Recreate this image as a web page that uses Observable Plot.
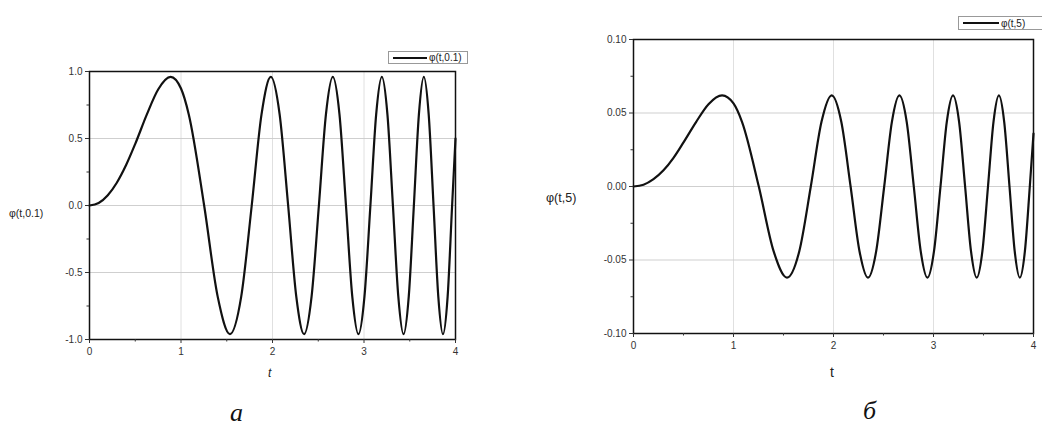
<!DOCTYPE html>
<html>
<head>
<meta charset="utf-8">
<script src="https://cdn.jsdelivr.net/npm/d3@7"></script>
<script src="https://cdn.jsdelivr.net/npm/@observablehq/plot@0.6"></script>
<style>
  html, body { margin: 0; padding: 0; background: #fff; }
  #wrap { position: relative; width: 1042px; height: 432px; overflow: hidden; background: #fff; font-family: "Liberation Sans", Arial, sans-serif; }
  .panel { position: absolute; top: 0; }
  .lbl { position: absolute; color: #222; white-space: nowrap; }
  .legend { position: absolute; border: 1px solid #999; background: #fff; font-size: 10px; color: #222; display: flex; align-items: center; padding: 0 2px 0 4px; box-sizing: border-box; }
  .legend .sw { display: inline-block; height: 0; border-top: 2px solid #111; margin-right: 2px; }
  .cap { position: absolute; font-family: "Liberation Serif", "Times New Roman", serif; font-style: italic; font-size: 26px; color: #111; }
</style>
</head>
<body>
<div id="wrap">
  <div class="panel" id="pa" style="left:0px"></div>
  <div class="panel" id="pb" style="left:520px"></div>

  <div class="lbl" style="left:9px; top:207px; font-size:10.5px;">φ(t,0.1)</div>
  <div class="lbl" style="left:268px; top:366px; font-size:12px; font-style:italic;">t</div>
  <div class="legend" style="left:388px; top:51px; width:80px; height:13px;"><span class="sw" style="width:34px"></span>φ(t,0.1)</div>

  <div class="lbl" style="left:546px; top:191px; font-size:12.5px;">φ(t,5)</div>
  <div class="lbl" style="left:830px; top:364px; font-size:14px;">t</div>
  <div class="legend" style="left:958px; top:16px; width:90px; height:14px;"><span class="sw" style="width:36px"></span>φ(t,5)</div>

  <div class="cap" style="left:230px; top:398px;">а</div>
  <div class="cap" style="left:863px; top:396px;">б</div>
</div>
<script>
// ---- data ----
const t = [0, 0.1, 0.2, 0.3, 0.4, 0.5, 0.627, 0.75, 0.886, 1.0, 1.085, 1.253, 1.401, 1.535, 1.658, 1.773, 1.880, 1.982, 2.078, 2.171, 2.260, 2.345, 2.427, 2.507, 2.584, 2.659, 2.732, 2.803, 2.872, 2.939, 3.005, 3.070, 3.133, 3.195, 3.256, 3.316, 3.375, 3.432, 3.489, 3.545, 3.600, 3.654, 3.707, 3.760, 3.812, 3.863, 3.914, 3.963, 4.0];
const phiA = [0, 0.019, 0.077, 0.172, 0.302, 0.46, 0.68, 0.866, 0.96, 0.873, 0.68, 0, -0.68, -0.96, -0.68, 0, 0.68, 0.96, 0.68, 0, -0.68, -0.96, -0.68, 0, 0.68, 0.96, 0.68, 0, -0.68, -0.96, -0.68, 0, 0.68, 0.96, 0.68, 0, -0.68, -0.96, -0.68, 0, 0.68, 0.96, 0.68, 0, -0.68, -0.96, -0.68, 0, 0.5];
const phiB = [0, 0.0012, 0.005, 0.011, 0.0195, 0.030, 0.044, 0.056, 0.062, 0.0565, 0.044, 0, -0.044, -0.062, -0.044, 0, 0.044, 0.062, 0.044, 0, -0.044, -0.062, -0.044, 0, 0.044, 0.062, 0.044, 0, -0.044, -0.062, -0.044, 0, 0.044, 0.062, 0.044, 0, -0.044, -0.062, -0.044, 0, 0.044, 0.062, 0.044, 0, -0.044, -0.062, -0.044, 0, 0.036];

const xTicks = [0, 1, 2, 3, 4];
const xMinor = [0.5, 1.5, 2.5, 3.5];
const yTicksA = [-1, -0.5, 0, 0.5, 1];
const yLabelsA = ["-1.0", "-0.5", "0.0", "0.5", "1.0"];
const yMinorA = [-0.75, -0.25, 0.25, 0.75];
const yTicksB = [-0.1, -0.05, 0, 0.05, 0.1];
const yLabelsB = ["-0.10", "-0.05", "0.00", "0.05", "0.10"];
const yMinorB = [-0.075, -0.025, 0.025, 0.075];

const dataA = t.map((v, i) => ({t: v, phi: phiA[i]}));
const dataB = t.map((v, i) => ({t: v, phi: phiB[i]}));

const style = {fontSize: "10px", fontFamily: "Liberation Sans, Arial, sans-serif", color: "#333", background: "transparent"};

function panel(data, yDomain, yTicks, yLabels, yMinor, m, w) {
  return Plot.plot({
    width: w, height: 400,
    marginLeft: m.l, marginRight: m.r, marginTop: m.t, marginBottom: m.b,
    x: {domain: [0, 4]},
    y: {domain: yDomain},
    style,
    marks: [
      Plot.gridY(yTicks.slice(1, -1), {stroke: "#bbb", strokeOpacity: 0.7}),
      Plot.gridX(xTicks.slice(1, -1), {stroke: "#ccc", strokeOpacity: 0.6}),
      Plot.line(data, {x: "t", y: "phi", curve: "monotone-x", stroke: "#111", strokeWidth: 2.2}),
      Plot.frame({stroke: "#111", strokeWidth: 1.5}),
      Plot.axisX(xTicks, {tickSize: 4, tickPadding: 4, label: null, tickFormat: d => String(d)}),
      Plot.axisX(xMinor, {tickSize: 2.5, label: null, tickFormat: () => ""}),
      Plot.axisY(yTicks, {tickSize: 4, tickPadding: 3, label: null, tickFormat: d => yLabels[yTicks.indexOf(d)]}),
      Plot.axisY(yMinor, {tickSize: 2.5, label: null, tickFormat: () => ""})
    ]
  });
}

document.getElementById("pa").appendChild(
  panel(dataA, [-1, 1], yTicksA, yLabelsA, yMinorA, {l: 89, r: 25, t: 71, b: 61}, 480));
document.getElementById("pb").appendChild(
  panel(dataB, [-0.1, 0.1], yTicksB, yLabelsB, yMinorB, {l: 113, r: 9, t: 39, b: 67}, 522));
</script>
</body>
</html>
